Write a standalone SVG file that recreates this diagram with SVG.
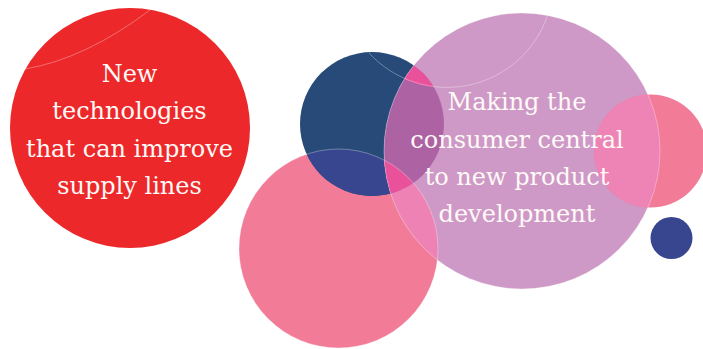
<svg xmlns="http://www.w3.org/2000/svg" width="703" height="349" viewBox="0 0 703 349">
  <style>
    .lbl { font-family: "DejaVu Serif", "Liberation Serif", serif; font-size: 24px; fill: #fffaf7; text-anchor: middle; }
    .faint { fill: none; stroke: #ffffff; stroke-opacity: 0.4; stroke-width: 0.8; }
  </style>
  <defs>
    <clipPath id="cNavy"><circle cx="372" cy="124" r="72"/></clipPath>
    <clipPath id="cLilac"><circle cx="522" cy="151" r="138"/></clipPath>
    <clipPath id="cLower"><circle cx="338.5" cy="248.5" r="99.5"/></clipPath>
    <clipPath id="cHidden"><circle cx="447" cy="-18" r="106"/></clipPath>
  </defs>
  <rect width="703" height="349" fill="#ffffff"/>

  <g id="node-supply-lines">
    <circle cx="130" cy="128" r="120" fill="#ed282a"/>
    <path class="faint" d="M25,69 Q85,59 150,10"/>
    <text class="lbl" x="129.5" y="82">New</text>
    <text class="lbl" x="129.5" y="119">technologies</text>
    <text class="lbl" x="129.5" y="156.5">that can improve</text>
    <text class="lbl" x="129.5" y="193.5">supply lines</text>
  </g>

  <g id="circle-lower-pink">
    <circle cx="338.5" cy="248.5" r="99.5" fill="#f27b98"/>
  </g>

  <g id="circle-navy">
    <circle cx="372" cy="124" r="72" fill="#274a78"/>
    <g clip-path="url(#cNavy)">
      <circle cx="338.5" cy="248.5" r="99.5" fill="#37468e"/>
    </g>
  </g>

  <g id="node-consumer">
    <circle cx="522" cy="151" r="138" fill="#ce99c6"/>
    <g clip-path="url(#cLilac)">
      <circle cx="338.5" cy="248.5" r="99.5" fill="#ee82b5"/>
      <circle cx="650.5" cy="151" r="56.5" fill="#ee83b5"/>
      <circle cx="372" cy="124" r="72" fill="#ad63a3"/>
      <g clip-path="url(#cNavy)">
        <circle cx="338.5" cy="248.5" r="99.5" fill="#e9519b"/>
        <circle cx="447" cy="-18" r="106" fill="#e9519b"/>
      </g>
    </g>
  </g>

  <g id="circle-right-pink">
    <path d="M594,151 A56.5,56.5 0 0 1 650.5,94.5 A56.5,56.5 0 1 1 594,151 Z" fill="none"/>
    <g>
      <circle cx="650.5" cy="151" r="56.5" fill="#f27b98"/>
      <g clip-path="url(#cLilac)">
        <circle cx="650.5" cy="151" r="56.5" fill="#ee83b5"/>
      </g>
    </g>
  </g>

  <g id="circle-small-blue">
    <circle cx="671.5" cy="238" r="21" fill="#37468e"/>
  </g>

  <g id="faint-outlines">
    <circle class="faint" cx="522" cy="151" r="138"/>
    <circle class="faint" cx="338.5" cy="248.5" r="99.5"/>
    <path class="faint" d="M369,53 A106,106 0 0 0 548,14"/>
  </g>

  <g id="node-consumer-text">
    <text class="lbl" x="517" y="110">Making the</text>
    <text class="lbl" x="517" y="147.5">consumer central</text>
    <text class="lbl" x="517" y="185">to new product</text>
    <text class="lbl" x="517" y="222">development</text>
  </g>

  <g id="connectors"/>
</svg>
